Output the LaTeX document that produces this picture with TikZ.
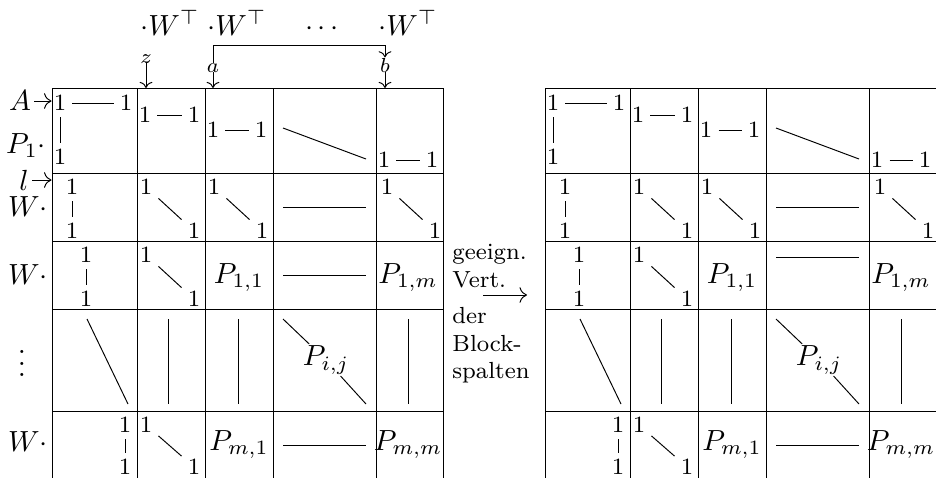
\documentclass[tikz,border=0pt]{standalone}
\usetikzlibrary{arrows.meta}
\tikzset{
  gridline/.style={line width=0.33pt},
  one/.style={inner sep=2pt, font=\footnotesize},
  bent/.style={inner sep=1pt, anchor=base},
  lab/.style={inner sep=0pt, font=\scriptsize, anchor=base},
  side/.style={inner sep=1pt},
  sidetext/.style={inner sep=0pt, align=left, font=\footnotesize},
  smallarrow/.style={-{To[scale=0.9]}},
  bigarrow/.style={-{To[scale=1.1]}}
}
\newcommand\blockmat[3]{%
\begin{scope}[shift={(#2,0)}]
  % grid
  \draw[gridline] (52,479) -- (52,88) -- (443,88) -- (443,479);
  \foreach \yy in {173,241,309,411} \draw[gridline] (52,\yy) -- (443,\yy);
  \foreach \xx in {137,205,273,376} \draw[gridline] (\xx,88) -- (\xx,479);
  % row 1
  \node[one] (#1ra) at (60,103) {1};
  \node[one] (#1rb) at (126,103) {1};
  \node[one] (#1rc) at (60,157) {1};
  \draw (#1ra) -- (#1rb); \draw (#1ra) -- (#1rc);
  \node[one] (#1rd) at (145,115) {1};
  \node[one] (#1re) at (194,115) {1};
  \draw (#1rd) -- (#1re);
  \node[one] (#1rf) at (213,130) {1};
  \node[one] (#1rg) at (261,130) {1};
  \draw (#1rf) -- (#1rg);
  \coordinate (#1rh) at (283,128); \coordinate (#1ri) at (366,159);
  \draw (#1rh) -- (#1ri);
  \node[one] (#1rj) at (384,160) {1};
  \node[one] (#1rk) at (432,160) {1};
  \draw (#1rj) -- (#1rk);
  % row 2
  \node[one] (#1sa) at (72,187) {1};
  \node[one] (#1sb) at (72,231) {1};
  \draw (#1sa) -- (#1sb);
  \node[one] (#1sc) at (146,187) {1};
  \node[one] (#1sd) at (194,231) {1};
  \draw (#1sc) -- (#1sd);
  \node[one] (#1se) at (214,187) {1};
  \node[one] (#1sf) at (262,231) {1};
  \draw (#1se) -- (#1sf);
  \coordinate (#1sg) at (283,207); \coordinate (#1sh) at (366,207);
  \draw (#1sg) -- (#1sh);
  \node[one] (#1si) at (387,187) {1};
  \node[one] (#1sj) at (435,231) {1};
  \draw (#1si) -- (#1sj);
  % row 3
  \node[one] (#1ta) at (86,255) {1};
  \node[one] (#1tb) at (86,299) {1};
  \draw (#1ta) -- (#1tb);
  \node[one] (#1tc) at (146,255) {1};
  \node[one] (#1td) at (194,299) {1};
  \draw (#1tc) -- (#1td);
  \node[bent] (#1te) at (239,283) {$P_{1,1}$};
  \coordinate (#1tf) at (283,#3); \coordinate (#1tg) at (366,#3);
  \draw (#1tf) -- (#1tg);
  \node[bent] (#1th) at (408,283) {$P_{1,m}$};
  % row 4
  \coordinate (#1ua) at (87,319); \coordinate (#1ub) at (128,404);
  \draw (#1ua) -- (#1ub);
  \coordinate (#1uc) at (168,319); \coordinate (#1ud) at (168,404);
  \draw (#1uc) -- (#1ud);
  \coordinate (#1ue) at (238,319); \coordinate (#1uf) at (238,404);
  \draw (#1ue) -- (#1uf);
  \coordinate (#1ug) at (283,319); \coordinate (#1uh) at (366,404);
  \node[inner sep=0.5pt] (#1pij) at (326,360) {$P_{i,j}$};
  \draw (#1ug) -- (#1pij); \draw (#1pij) -- (#1uh);
  \coordinate (#1ui) at (408,319); \coordinate (#1uj) at (408,404);
  \draw (#1ui) -- (#1uj);
  % row 5
  \node[one] (#1va) at (125,425) {1};
  \node[one] (#1vb) at (125,467) {1};
  \draw (#1va) -- (#1vb);
  \node[one] (#1vc) at (146,425) {1};
  \node[one] (#1vd) at (194,467) {1};
  \draw (#1vc) -- (#1vd);
  \node[bent] (#1ve) at (239,450) {$P_{m,1}$};
  \coordinate (#1vf) at (283,445); \coordinate (#1vg) at (366,445);
  \draw (#1vf) -- (#1vg);
  \node[bent] (#1vh) at (408,450) {$P_{m,m}$};
\end{scope}}
\begin{document}
\begin{tikzpicture}[x=0.3434pt,y=-0.3434pt,line width=0.33pt]
\useasboundingbox (0,0) rectangle (936,477);
\blockmat{L}{0}{275}
\blockmat{R}{493}{257}
% left labels
\node[side] (labA) at (20,101) {$A$};
\coordinate (tipA) at (51.5,101);
\draw[bigarrow] (labA) -- (tipA);
\node[side, anchor=base] (labP) at (26,153) {$P_1\cdot$};
\node[side] (labl) at (24,180) {$l$};
\coordinate (tipl) at (51.5,180);
\draw[bigarrow] (labl) -- (tipl);
\node[side] (labW1) at (28,207) {$W\cdot$};
\node[side] (labW2) at (28,275) {$W\cdot$};
\node[side] (labdots) at (22,355) {$\vdots$};
\node[side] (labW3) at (28,442) {$W\cdot$};
% top labels
\node[bent] (topa) at (170,35) {$\cdot W^\top$};
\node[bent] (topb) at (237,35) {$\cdot W^\top$};
\node[bent] (topc) at (322,35) {$\cdots$};
\node[bent] (topd) at (408,35) {$\cdot W^\top$};
\node[lab] (labz) at (146,63) {$z$};
\node[lab] (laba) at (213,72) {$a$};
\node[lab] (labb) at (385,72) {$b$};
\coordinate (tz) at (146,88);
\coordinate (ta) at (213,88);
\coordinate (tb) at (385,88);
\draw[smallarrow] (labz) -- (tz);
\draw[smallarrow] (laba) -- (ta);
\draw[smallarrow] (labb) -- (tb);
\draw[smallarrow] (laba.north) -- ++(0,-17) -| (labb.north);
% middle
\node[sidetext, anchor=south west] (midup) at (452,288) {geeign.\\Vert.};
\coordinate (ml) at (483,295);
\coordinate (mr) at (527,295);
\draw[bigarrow] (ml) -- (mr);
\node[sidetext, anchor=north west] (midlo) at (452,307) {der\\Block-\\spalten};
\end{tikzpicture}
\end{document}
